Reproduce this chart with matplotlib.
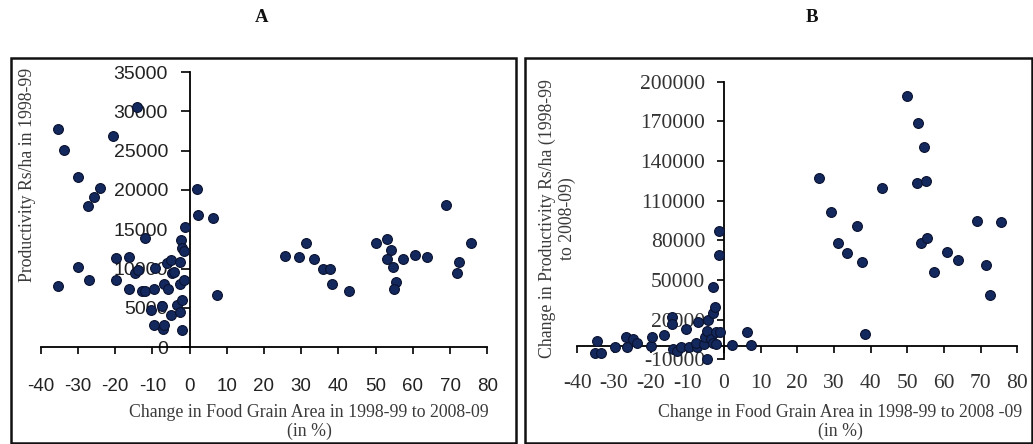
import matplotlib
matplotlib.use("Agg")
import matplotlib.pyplot as plt
from matplotlib.patches import Rectangle

plt.rcParams['axes.unicode_minus'] = False

# ---- Data: Panel A ----
a_x = [-35.3, -33.7, -30.1, -27.3, -25.6, -24.2, -20.5, -14.2, -35.3, -30.1,
       -26.9, -19.8, -19.8, -16.4, -16.4, -14.7, -13.8, -12.0, -12.9, -12.0,
       -10.4, -9.5, -9.3, -9.6, -7.2, -7.0, -7.3, -7.0, -6.0, -5.7,
       -5.0, -5.1, -4.8, -4.2, -3.3, -2.6, -2.7, -2.5, -2.1, -1.9,
       -2.3, -1.9, -1.5, -1.5, -1.2, 1.9, 2.2, 6.4, 7.5, 25.6,
       29.4, 31.2, 33.4, 35.9, 37.7, 38.4, 42.9, 50.1, 53.0, 54.0,
       53.0, 54.6, 57.3, 55.6, 55.0, 60.7, 63.9, 68.8, 72.5, 71.8, 75.6]
a_y = [27700, 25100, 21600, 18000, 19100, 20200, 26900, 30500, 7800, 10200,
       8600, 8600, 11400, 11500, 7400, 9500, 9800, 13900, 7100, 7200,
       4800, 7400, 10100, 2800, 2300, 2800, 5200, 8100, 10700, 7400,
       4100, 11100, 9500, 9600, 5400, 10800, 8000, 4500, 6000, 2200,
       13600, 12600, 12200, 8600, 15300, 20100, 16800, 16500, 6700, 11600,
       11500, 13300, 11200, 10000, 9900, 8000, 7200, 13300, 13800, 12400,
       11200, 10200, 11200, 8300, 7400, 11700, 11500, 18100, 10800, 9400, 13300]

# ---- Data: Panel B ----
b_x = [49.8, 52.8, 54.6, 52.7, 55.0, 25.9, 43.0, 29.2, 36.2, 31.2,
       33.6, 37.7, 38.6, 53.7, 55.5, 57.4, 60.7, 63.9, 69.1, 75.5,
       71.6, 72.5,
       -34.7, -35.2, -33.4, -29.7, -26.7, -26.4, -24.9, -23.6, -19.9, -19.5,
       -16.4, -14.3, -14.1, -10.4, -14.0, -12.7, -11.8, -9.5, -7.3, -7.5,
       -7.0, -5.5, -5.2, -4.3, -4.5, -4.5, -3.6, -3.1, -2.5, -3.1,
       -3.1, -2.2, -1.1, -2.2, -1.3, -1.4, 2.1, 6.4, 7.5]
b_y = [189400, 168500, 150300, 123600, 125100, 127400, 119800, 101600, 90800, 77700,
       70600, 63300, 8800, 77700, 82000, 56200, 70900, 65100, 94600, 93600,
       61300, 38600,
       4000, -5000, -5000, -1000, 6600, -500, 5000, 2500, 0, 6600,
       8300, 21700, 16600, 12900, -2500, -3800, -1000, -500, -500, 2500,
       18400, 1500, 6600, 19700, 11600, -9800, 5000, 24700, 29300, 44900,
       2500, 10800, 10800, 1500, 68900, 87000, 800, 10800, 800]

a_xticks = list(range(-40, 81, 10))
a_yticks = list(range(0, 35001, 5000))
b_xticks = list(range(-40, 81, 10))
b_yticks = list(range(-10000, 200001, 30000))

W, H = 1033, 444
fig = plt.figure(figsize=(W / 100, H / 100), dpi=100)

def fx(px):
    return px / W

def fy(py):
    return 1 - py / H

face = '#13285c'
edge = '#0a1230'
txtcol = '#3a3a3a'
serif = ['Liberation Serif', 'DejaVu Serif']
sans = ['Liberation Sans', 'DejaVu Sans']

# ---- Panel A ----
axA = fig.add_axes([fx(40.7), fy(347.3), (487.3 - 40.7) / W, (347.3 - 72.0) / H])
axA.scatter(a_x, a_y, s=50, c=face, edgecolors=edge, linewidths=0.8, zorder=3, clip_on=False)
axA.set_xlim(-40, 80)
axA.set_ylim(0, 35000)
axA.set_xticks(a_xticks)
axA.set_yticks(a_yticks)
axA.spines['left'].set_position(('data', 0))
axA.spines['top'].set_visible(False)
axA.spines['right'].set_visible(False)
for s in ('left', 'bottom'):
    axA.spines[s].set_linewidth(1.3)
axA.tick_params(axis='x', direction='out', length=5, width=1.2, pad=17, labelsize=13.5, labelcolor='#222222')
axA.tick_params(axis='y', direction='out', length=6.5, width=1.2, pad=9, labelsize=14, labelcolor='#222222')
for lab in axA.get_xticklabels() + axA.get_yticklabels():
    lab.set_family(sans)
axA.patch.set_visible(False)

# ---- Panel B ----
axB = fig.add_axes([fx(577.3), fy(359.2), (1017.3 - 577.3) / W, (359.2 - 81.7) / H])
axB.scatter(b_x, b_y, s=50, c=face, edgecolors=edge, linewidths=0.8, zorder=3, clip_on=False)
axB.set_xlim(-40, 80)
axB.set_ylim(-10000, 200000)
axB.set_xticks(b_xticks)
axB.set_yticks(b_yticks)
axB.spines['left'].set_position(('data', 0))
axB.spines['bottom'].set_position(('data', 0))
axB.spines['top'].set_visible(False)
axB.spines['right'].set_visible(False)
for s in ('left', 'bottom'):
    axB.spines[s].set_linewidth(1.3)
axB.tick_params(axis='x', direction='out', length=5, width=1.2, pad=15, labelsize=15.5, labelcolor='#333333')
axB.tick_params(axis='y', direction='out', length=5, width=1.2, pad=8.5, labelsize=15.5, labelcolor='#333333')
for lab in axB.get_xticklabels() + axB.get_yticklabels():
    lab.set_family(serif)
axB.patch.set_visible(False)

# ---- Axis titles ----
fig.text(fx(28), fy(175), 'Productivity Rs/ha in 1998-99', rotation=90, ha='center', va='center',
         fontsize=12.8, family=serif, color=txtcol)
fig.text(fx(309), fy(422), 'Change in Food Grain Area in 1998-99 to 2008-09\n(in %)', ha='center', va='center',
         fontsize=12.8, family=serif, color=txtcol, linespacing=1.2, multialignment='center')
fig.text(fx(557), fy(219), 'Change in Productivity Rs/ha (1998-99\nto 2008-09)', rotation=90, ha='center', va='center',
         fontsize=12.8, family=serif, color=txtcol, linespacing=1.2, multialignment='center')
fig.text(fx(840), fy(422), 'Change in Food Grain Area in 1998-99 to 2008 -09\n(in %)', ha='center', va='center',
         fontsize=12.8, family=serif, color=txtcol, linespacing=1.2, multialignment='center')

# ---- Panel titles ----
fig.text(fx(262), fy(18), 'A', ha='center', va='center', fontsize=13.5, fontweight='bold', family=serif, color='#111111')
fig.text(fx(812), fy(18), 'B', ha='center', va='center', fontsize=13.5, fontweight='bold', family=serif, color='#111111')

# ---- Panel borders ----
for (x0, x1) in ((10.5, 516), (524.5, 1031.5)):
    r = Rectangle((fx(x0), fy(443)), fx(x1) - fx(x0), fy(57.7) - fy(443), transform=fig.transFigure,
                  fill=False, edgecolor='#111111', linewidth=1.8, zorder=0)
    fig.patches.append(r)

fig.savefig('out.png', dpi=100)
